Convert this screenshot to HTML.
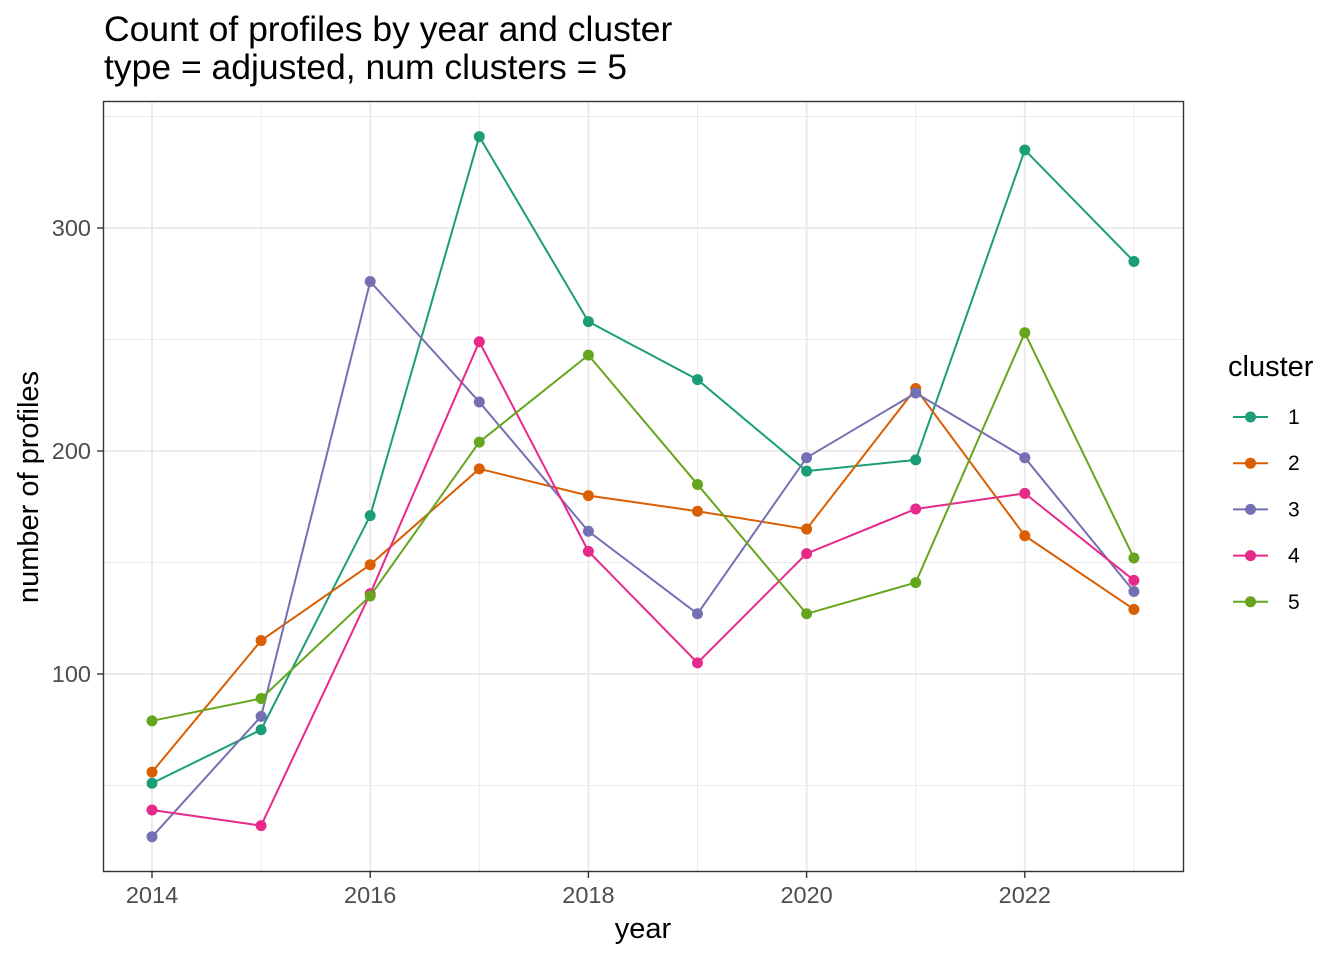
<!DOCTYPE html>
<html><head><meta charset="utf-8"><style>
body{margin:0;background:#fff;font-family:"Liberation Sans",sans-serif;}
</style></head><body>
<svg id="chart" width="1344" height="960" xmlns="http://www.w3.org/2000/svg" font-family="Liberation Sans, sans-serif">
<text x="104" y="41" font-size="35.5" fill="#000">Count of profiles by year and cluster</text>
<text x="104" y="79" font-size="35.5" fill="#000">type = adjusted, num clusters = 5</text>
<g id="grid"></g>
<g id="series"></g>
<rect x="103.5" y="101.5" width="1080" height="770" fill="none" stroke="#333" stroke-width="1.4"/>
<g id="axes"></g>
<text x="643" y="938" font-size="29" text-anchor="middle">year</text>
<text transform="translate(38,487) rotate(-90)" font-size="29" text-anchor="middle">number of profiles</text>
<text x="1228" y="376" font-size="29">cluster</text>
<g id="legend"></g>
</svg>
<script>
const years=[2014,2015,2016,2017,2018,2019,2020,2021,2022,2023];
const clusters=["1","2","3","4","5"];
const colors=["#1B9E77","#D95F02","#7570B3","#E7298A","#66A61E"];
const c1=[51,75,171,341,258,232,191,196,335,285];
const c2=[56,115,149,192,180,173,165,228,162,129];
const c3=[27,81,276,222,164,127,197,226,197,137];
const c4=[39,32,136,249,155,105,154,174,181,142];
const c5=[79,89,135,204,243,185,127,141,253,152];
const series=[c1,c2,c3,c4,c5];
const yTicks=[100,200,300];
const xTicks=[2014,2016,2018,2020,2022];
const NS="http://www.w3.org/2000/svg";
const xs=v=>152+(v-2014)*109.1;
const ys=v=>897-v*2.23;
function mk(t,a,p){const e=document.createElementNS(NS,t);for(const k in a)e.setAttribute(k,a[k]);p.appendChild(e);return e;}
const grid=document.getElementById('grid');
mk('rect',{x:103.5,y:101.5,width:1080,height:770,fill:'#fff'},grid);
for(let v=50;v<=350;v+=50){const l=mk('line',{x1:104,x2:1183,y1:ys(v),y2:ys(v),stroke:'#ebebeb','stroke-width':v%100?1:2},grid);

}
for(let y=2014;y<=2023;y++){const l=mk('line',{x1:xs(y),x2:xs(y),y1:102,y2:871,stroke:'#ebebeb','stroke-width':y%2?1:2},grid);

}
const ax=document.getElementById('axes');
yTicks.forEach(v=>{mk('line',{x1:97,x2:103,y1:ys(v),y2:ys(v),stroke:'#333','stroke-width':1.4},ax);
const t=mk('text',{x:91,y:ys(v)+8,'font-size':23.5,fill:'#4d4d4d','text-anchor':'end'},ax);t.textContent=v;

});
xTicks.forEach(v=>{mk('line',{x1:xs(v),x2:xs(v),y1:872,y2:878,stroke:'#333','stroke-width':1.4},ax);
const t=mk('text',{x:xs(v),y:903,'font-size':23.5,fill:'#4d4d4d','text-anchor':'middle'},ax);t.textContent=v;

});
const sg=document.getElementById('series');
series.forEach((d,i)=>{const g=mk('g',{},sg);


mk('polyline',{points:d.map((v,j)=>xs(years[j])+','+ys(v)).join(' '),fill:'none',stroke:colors[i],'stroke-width':2},g);
d.forEach((v,j)=>{const c=mk('circle',{cx:xs(years[j]),cy:ys(v),r:5.5,fill:colors[i]},g);

});});
const lg=document.getElementById('legend');
clusters.forEach((c,i)=>{const y=417+i*46.2;const g=mk('g',{},lg);


mk('line',{x1:1233,x2:1268,y1:y,y2:y,stroke:colors[i],'stroke-width':2},g);
mk('circle',{cx:1250.5,cy:y,r:5.5,fill:colors[i]},g);
const t=mk('text',{x:1288,y:y+7,'font-size':21},g);t.textContent=c;});
</script>
</body></html>
